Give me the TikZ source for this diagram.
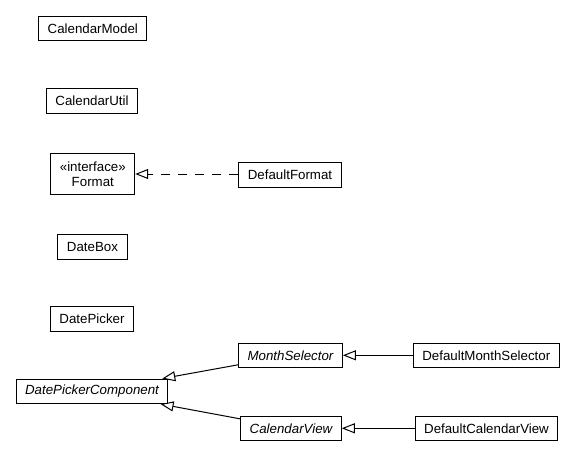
\documentclass[tikz,border=0pt]{standalone}
\usepackage{fontspec}
\setmainfont{Liberation Sans}
\usetikzlibrary{arrows.meta}
\tikzset{
  cls/.style={draw, line width=1pt, inner xsep=9pt, inner ysep=0pt,
    minimum height=24.5pt, font=\fontsize{13.3}{15.5}\selectfont},
  abscls/.style={cls, font=\fontsize{13.3}{15.5}\selectfont\itshape},
  gen/.style={line width=1pt, -{Triangle[open, length=13pt, width=10pt]}},
  realz/.style={gen, dash pattern=on 9pt off 8pt}
}
\begin{document}
\begin{tikzpicture}[x=1pt,y=-1pt]
\useasboundingbox (0,0) rectangle (572,457);
\node[cls] (cm) at (92.8,28.5) {CalendarModel};
\node[cls] (cu) at (92,100.8) {CalendarUtil};
\node[cls, align=center, minimum height=40pt] (fmt) at (92.8,174) {«interface»\\Format};
\node[cls] (dfmt) at (290,175) {DefaultFormat};
\node[cls] (db) at (92.5,247) {DateBox};
\node[cls] (dp) at (92,319) {DatePicker};
\node[abscls] (dpc) at (92,391.3) {DatePickerComponent};
\node[abscls] (ms) at (290.5,355.3) {MonthSelector};
\node[cls] (dms) at (486.3,355.3) {DefaultMonthSelector};
\node[abscls] (cv) at (291,428.3) {CalendarView};
\node[cls] (dcv) at (486.5,428.3) {DefaultCalendarView};
\draw[realz] (dfmt.west |- fmt) -- (fmt.east);
\draw[gen] (dms) -- (ms);
\draw[gen] (dcv) -- (cv);
\draw[gen] (ms) -- (dpc);
\draw[gen] (cv) -- (dpc);
\end{tikzpicture}
\end{document}
